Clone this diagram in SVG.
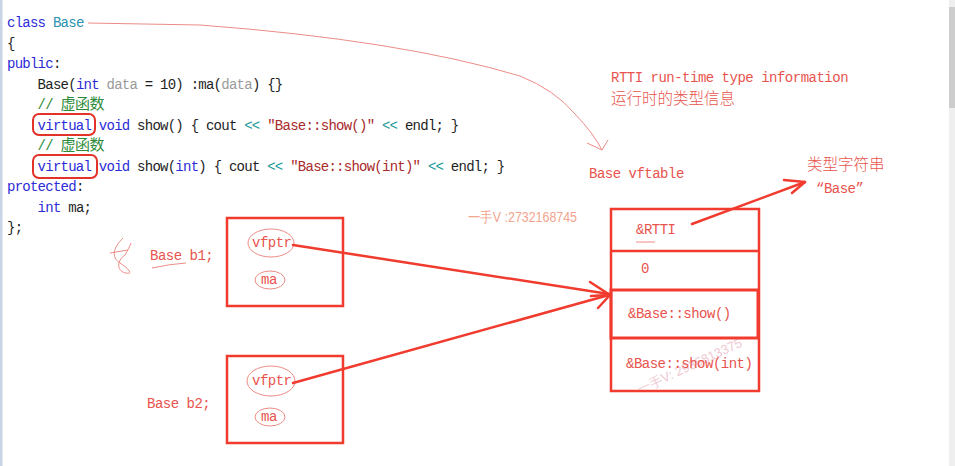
<svg xmlns="http://www.w3.org/2000/svg" width="955" height="466" viewBox="0 0 955 466">
<defs>
<style>
.code{font-family:"Liberation Mono","Noto Sans CJK SC",monospace;font-size:14px;letter-spacing:-0.75px;fill:#1e1e1e}
.kw{fill:#2b2bd6}.ty{fill:#2b91af}.pa{fill:#9a9a9a}.cm{fill:#2e8b3a}.st{fill:#a82a2a}.op{fill:#1a9a9a}
.cjk{font-family:"Noto Sans CJK SC",sans-serif;font-size:15px;letter-spacing:-0.5px}
.lbl{font-family:"Liberation Mono","Noto Sans CJK SC",monospace;font-size:14px;letter-spacing:-0.5px;fill:#e8534d}
.lcjk{font-family:"Noto Sans CJK SC",sans-serif;font-size:15.5px;font-weight:300;fill:#e8534d}
.box{fill:none;stroke:#f03b2e;stroke-width:2.5}
.hand{fill:none;stroke:#ec8c86;stroke-width:1}
.arrow{fill:none;stroke:#f03b2e;stroke-width:2.5;stroke-linecap:round;stroke-linejoin:round}
.oval{fill:none;stroke:#ec8c86;stroke-width:1}
</style>
</defs>
<rect width="955" height="466" fill="#ffffff"/>
<rect x="0" y="0" width="2.5" height="466" fill="#c9d5e6"/>
<rect x="949" y="0" width="6" height="466" fill="#efefef"/>
<rect x="949" y="7" width="6" height="101" fill="#cdcdcd"/>

<g id="code">
<text class="code" x="7" y="27" xml:space="preserve"><tspan class="kw">class</tspan> <tspan class="ty">Base</tspan></text>
<text class="code" x="7" y="47.5">{</text>
<text class="code" x="7" y="68"><tspan class="kw">public</tspan>:</text>
<text class="code" x="7" y="88.5" xml:space="preserve">    Base(<tspan class="kw">int</tspan> <tspan class="pa">data</tspan> = 10) :ma(<tspan class="pa">data</tspan>) {}</text>
<text class="code cm" x="7" y="109" xml:space="preserve">    // <tspan class="cjk">虚函数</tspan></text>
<text class="code" x="7" y="129.5" xml:space="preserve">    <tspan class="kw">virtual</tspan> <tspan class="kw">void</tspan> show() { cout <tspan class="op">&lt;&lt;</tspan> <tspan class="st">"Base::show()"</tspan> <tspan class="op">&lt;&lt;</tspan> endl; }</text>
<text class="code cm" x="7" y="150" xml:space="preserve">    // <tspan class="cjk">虚函数</tspan></text>
<text class="code" x="7" y="170.5" xml:space="preserve">    <tspan class="kw">virtual</tspan> <tspan class="kw">void</tspan> show(<tspan class="kw">int</tspan>) { cout <tspan class="op">&lt;&lt;</tspan> <tspan class="st">"Base::show(int)"</tspan> <tspan class="op">&lt;&lt;</tspan> endl; }</text>
<text class="code" x="7" y="191"><tspan class="kw">protected</tspan>:</text>
<text class="code" x="7" y="211.5" xml:space="preserve">    <tspan class="kw">int</tspan> ma;</text>
<text class="code" x="7" y="232">};</text>
<rect x="33" y="114" width="62" height="21" rx="6" fill="none" stroke="#e3322a" stroke-width="2"/>
<rect x="33" y="155" width="64" height="23" rx="6" fill="none" stroke="#e3322a" stroke-width="2"/>
</g>

<g id="annotations">
<text class="lbl" x="611" y="82">RTTI run-time type information</text>
<text class="lcjk" x="611" y="104">运行时的类型信息</text>
<text class="lbl" x="589" y="178">Base vftable</text>
<text class="lcjk" x="807" y="170">类型字符串</text>
<text class="lbl" x="816" y="193">“Base”</text>
<text x="468" y="222" font-family="Liberation Sans,sans-serif" font-size="14" fill="#f2a48e" textLength="109" lengthAdjust="spacingAndGlyphs">一手V :2732168745</text>
<text x="0" y="0" font-family="Liberation Sans,sans-serif" font-size="13" fill="#eab2c2" opacity="0.7" transform="translate(640,394) rotate(-25)">一手V: 2936813375</text>
<path class="hand" d="M123,238 C113,248 111,257 120,263 C128,268 134,275 126,273 C118,272 115,262 125,255 C128,250 130,246 131,243"/>
<path class="hand" d="M110,253 L128,250"/>
<path class="hand" d="M152,268 Q170,264 186,263"/>
</g>

<g id="b1">
<rect class="box" x="227" y="218" width="116" height="88"/>
<text class="lbl" x="150" y="260">Base b1;</text>
<ellipse class="oval" cx="271" cy="243" rx="23" ry="14"/>
<text class="lbl" x="252" y="247">vfptr</text>
<ellipse class="oval" cx="270" cy="280" rx="15" ry="9"/>
<text class="lbl" x="261" y="284">ma</text>
</g>

<g id="b2">
<rect class="box" x="227" y="356" width="116" height="87"/>
<text class="lbl" x="147" y="408">Base b2;</text>
<ellipse class="oval" cx="271" cy="381" rx="24" ry="15"/>
<text class="lbl" x="252" y="385">vfptr</text>
<ellipse class="oval" cx="270" cy="417" rx="15" ry="9"/>
<text class="lbl" x="261" y="421">ma</text>
</g>

<g id="vftable">
<rect class="box" x="611" y="209" width="148" height="182"/>
<line class="box" x1="611" y1="251" x2="759" y2="251"/>
<rect x="611" y="290" width="147" height="48" fill="none" stroke="#f03b2e" stroke-width="3"/>
<text class="lbl" x="636" y="234">&amp;RTTI</text>
<line x1="636" y1="242" x2="655" y2="242" stroke="#ec8c86" stroke-width="1"/>
<text class="lbl" x="641" y="273">0</text>
<text class="lbl" x="628" y="318">&amp;Base::show()</text>
<text class="lbl" x="626" y="368">&amp;Base::show(int)</text>
</g>

<g id="connectors">
<path class="hand" d="M88,23 L200,25 Q400,40 520,76 Q555,90 575,114 Q594,134 602,150"/>
<path class="hand" d="M587,143 L602,150 L608,140"/>
<path class="arrow" d="M692,224 L805,182"/>
<path class="arrow" d="M784,180 L805,182 L792,193"/>
<path class="arrow" d="M293,245 L609,294"/>
<path class="arrow" d="M293,383 L609,295"/>
<path class="arrow" d="M590,282 L610,295 L598,308"/>
<path class="arrow" d="M591,296 L609,295"/>
</g>
</svg>
